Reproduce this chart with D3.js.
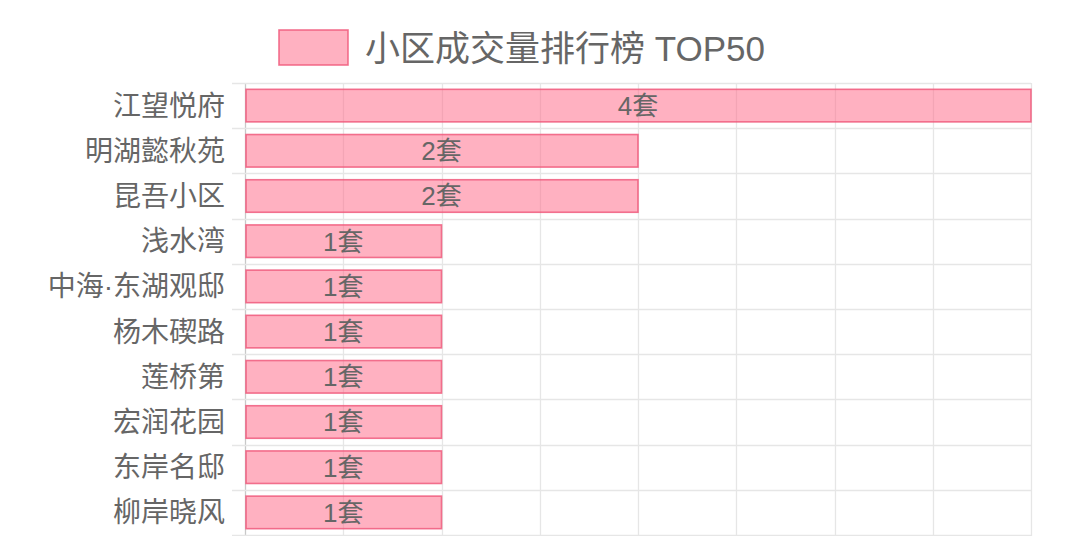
<!DOCTYPE html>
<meta charset="utf-8">
<script src="https://cdn.jsdelivr.net/npm/d3@7"></script>
<style>
  body { margin: 0; background: #fff; }
  svg { display: block; font-family: "Liberation Sans", "Noto Sans CJK SC", sans-serif; }
</style>
<body>
<script>

// data
var names = ["江望悦府", "明湖懿秋苑", "昆吾小区", "浅水湾", "中海·东湖观邸", "杨木碶路", "莲桥第", "宏润花园", "东岸名邸", "柳岸晓风"];
var counts = [4, 2, 2, 1, 1, 1, 1, 1, 1, 1];
var xTicks = [0, 0.5, 1, 1.5, 2, 2.5, 3, 3.5, 4];
var title = "小区成交量排行榜 TOP50";

var W = 1080, H = 536;
var margin = {top: 83, right: 49, bottom: 1, left: 245};

var svg = d3.select("body").append("svg")
    .attr("width", W)
    .attr("height", H);

var x = d3.scaleLinear().domain([0, 4]).range([margin.left, W - margin.right]);
var y = d3.scaleBand().domain(names).range([margin.top, H - margin.bottom]);

// vertical grid lines
svg.append("g").selectAll("line")
    .data(xTicks)
    .enter().append("line")
    .attr("x1", d => Math.round(x(d)) + 0.5)
    .attr("x2", d => Math.round(x(d)) + 0.5)
    .attr("y1", margin.top)
    .attr("y2", H)
    .style("stroke", d => d === 0 ? "#c8c8c8" : "#e6e6e6")
    .style("stroke-width", 1.3);

// horizontal grid lines at category boundaries (with tick stubs on the left)
var bounds = names.map(n => y(n)).concat([y(names[names.length - 1]) + y.bandwidth()]);
svg.append("g").selectAll("line")
    .data(bounds)
    .enter().append("line")
    .attr("x1", margin.left - 13)
    .attr("x2", W - margin.right)
    .attr("y1", d => Math.round(d) + 0.5)
    .attr("y2", d => Math.round(d) + 0.5)
    .style("stroke", "#e6e6e6")
    .style("stroke-width", 1.3);

// bars: 0.9 * 0.8 of the band
var barH = y.bandwidth() * 0.72;
svg.append("g").selectAll("rect")
    .data(names)
    .enter().append("rect")
    .attr("x", x(0) + 1)
    .attr("y", (d, i) => y(d) + (y.bandwidth() - barH) / 2)
    .attr("width", (d, i) => x(counts[i]) - x(0) - 1)
    .attr("height", barH)
    .style("fill", "rgba(255,99,132,0.5)")
    .style("stroke", "rgba(240,90,125,0.85)")
    .style("stroke-width", 1.6);

// value labels
svg.append("g").selectAll("text")
    .data(names)
    .enter().append("text")
    .attr("x", (d, i) => (x(0) + x(counts[i])) / 2)
    .attr("y", d => y(d) + y.bandwidth() / 2)
    .attr("dy", "0.36em")
    .style("text-anchor", "middle")
    .style("font-size", "26px")
    .style("fill", "#666")
    .text((d, i) => counts[i] + "套");

// category labels
svg.append("g").selectAll("text")
    .data(names)
    .enter().append("text")
    .attr("x", margin.left - 20)
    .attr("y", d => y(d) + y.bandwidth() / 2)
    .attr("dy", "0.36em")
    .style("text-anchor", "end")
    .style("font-size", "28px")
    .style("fill", "#666")
    .text(d => d);

// legend
var legend = svg.append("g");
legend.append("rect")
    .attr("x", 279)
    .attr("y", 30)
    .attr("width", 69)
    .attr("height", 35)
    .style("fill", "rgba(255,99,132,0.5)")
    .style("stroke", "rgba(240,90,125,0.85)")
    .style("stroke-width", 1.6);
legend.append("text")
    .attr("x", 365)
    .attr("y", 48)
    .attr("dy", "0.36em")
    .style("font-size", "35px")
    .style("fill", "#666")
    .text(title);

</script>
</body>
